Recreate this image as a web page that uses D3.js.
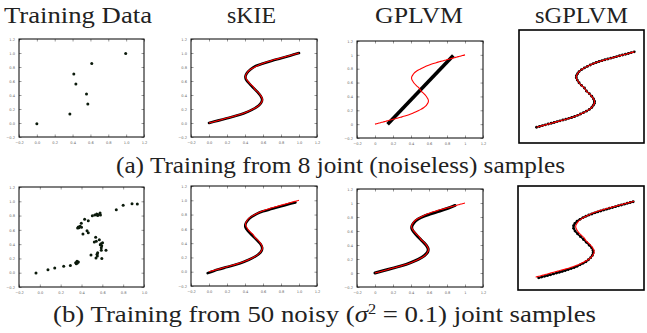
<!DOCTYPE html>
<html>
<head>
<meta charset="utf-8">
<script src="https://cdn.jsdelivr.net/npm/d3@7"></script>
<style>
  body { margin: 0; background: #fff; }
  svg { display: block; }
  .tick text { font-family: "DejaVu Sans", sans-serif; fill: #666; }
  .tick line { stroke: #333; stroke-width: 0.5; }
  .serif { font-family: "Liberation Serif", serif; font-size: 23px; fill: #222; }
</style>
</head>
<body>
<div id="chart"></div>
<script>
// ---- data ----
const titles = ["Training Data", "sKIE", "GPLVM", "sGPLVM"];

// 8 noiseless training samples
const sparseX = [0.0, 0.37, 0.414, 0.437, 0.556, 0.571, 0.615, 0.995];
const sparseY = [-0.01, 0.13, 0.70, 0.557, 0.414, 0.27, 0.85, 0.994];

// 50 noisy training samples
const noisyX = [-0.037, 0.078, 0.143, 0.229, 0.293, 0.344, 0.357, 0.37, 0.35, 0.36,
  0.491, 0.539, 0.552, 0.555, 0.549, 0.59, 0.635, 0.594, 0.587, 0.58,
  0.602, 0.571, 0.542, 0.523, 0.536, 0.465, 0.453, 0.414, 0.37, 0.363,
  0.386, 0.40, 0.398, 0.43, 0.465, 0.504, 0.527, 0.546, 0.56, 0.578,
  0.582, 0.555, 0.734, 0.80, 0.885, 0.936, 0.59, 0.55, 0.375, 0.595];
const noisyY = [-0.004, 0.042, 0.066, 0.089, 0.10, 0.14, 0.16, 0.15, 0.126, 0.135,
  0.248, 0.206, 0.234, 0.28, 0.26, 0.314, 0.314, 0.378, 0.406, 0.39,
  0.42, 0.462, 0.44, 0.43, 0.496, 0.56, 0.588, 0.542, 0.64, 0.625,
  0.65, 0.635, 0.692, 0.748, 0.728, 0.798, 0.807, 0.822, 0.812, 0.836,
  0.808, 0.80, 0.882, 0.944, 0.966, 0.962, 0.35, 0.815, 0.63, 0.20];

// ground-truth S curve (red)
const trueCurve = [[0, 0], [0.03, 0.01], [0.06, 0.021], [0.09, 0.031], [0.12, 0.042],
  [0.15, 0.052], [0.18, 0.063], [0.21, 0.074], [0.24, 0.084], [0.27, 0.095],
  [0.30, 0.105], [0.33, 0.117], [0.36, 0.129], [0.39, 0.142], [0.42, 0.157],
  [0.45, 0.174], [0.48, 0.193], [0.51, 0.213], [0.54, 0.236], [0.565, 0.262],
  [0.58, 0.29], [0.592, 0.318], [0.593, 0.345], [0.583, 0.375], [0.565, 0.41],
  [0.54, 0.445], [0.51, 0.48], [0.49, 0.52], [0.46, 0.555], [0.435, 0.59],
  [0.417, 0.625], [0.407, 0.655], [0.408, 0.682], [0.42, 0.71], [0.435, 0.738],
  [0.46, 0.764], [0.49, 0.787], [0.52, 0.807], [0.55, 0.826], [0.58, 0.843],
  [0.61, 0.858], [0.64, 0.871], [0.67, 0.883], [0.70, 0.895], [0.73, 0.906],
  [0.76, 0.916], [0.79, 0.927], [0.82, 0.937], [0.85, 0.948], [0.88, 0.958],
  [0.91, 0.969], [0.94, 0.979], [0.97, 0.99], [1.0, 1.0]];

// fitted curves (black)
const skieTopFit = [[0, 0], [0.1, 0.034], [0.2, 0.068], [0.3, 0.102], [0.39, 0.14],
  [0.48, 0.19], [0.55, 0.245], [0.58, 0.29], [0.59, 0.335], [0.575, 0.385],
  [0.54, 0.44], [0.49, 0.505], [0.44, 0.575], [0.41, 0.625], [0.405, 0.665],
  [0.42, 0.71], [0.46, 0.765], [0.52, 0.815], [0.6, 0.85], [0.7, 0.89],
  [0.8, 0.925], [0.9, 0.962], [1.0, 1.0]];
const gplvmTopFit = [[0.14, 0.0], [0.87, 0.99]];
const sgplvmTopFit = trueCurve;

const skieBottomFit = [[-0.015, -0.02], [0.1, 0.03], [0.2, 0.065], [0.3, 0.1], [0.39, 0.14],
  [0.48, 0.19], [0.55, 0.245], [0.585, 0.295], [0.59, 0.34], [0.57, 0.39],
  [0.53, 0.445], [0.48, 0.51], [0.43, 0.575], [0.405, 0.625], [0.405, 0.665],
  [0.425, 0.71], [0.47, 0.765], [0.53, 0.81], [0.6, 0.845], [0.7, 0.88],
  [0.8, 0.915], [0.9, 0.95], [0.96, 0.97]];
const gplvmBottomFit = [[0, 0], [0.1, 0.036], [0.2, 0.07], [0.3, 0.105], [0.39, 0.145],
  [0.48, 0.195], [0.55, 0.25], [0.585, 0.3], [0.59, 0.345], [0.57, 0.395],
  [0.53, 0.45], [0.48, 0.515], [0.435, 0.58], [0.41, 0.63], [0.41, 0.67],
  [0.43, 0.715], [0.48, 0.77], [0.54, 0.81], [0.62, 0.845], [0.72, 0.885],
  [0.81, 0.925], [0.89, 0.965]];
const sgplvmBottomFit = [[0.03, -0.01], [0.06, 0.0], [0.09, 0.01], [0.12, 0.021], [0.15, 0.031],
  [0.18, 0.042], [0.21, 0.053], [0.24, 0.064], [0.27, 0.075], [0.30, 0.087],
  [0.33, 0.1], [0.36, 0.113], [0.39, 0.127], [0.42, 0.143], [0.45, 0.161],
  [0.48, 0.181], [0.51, 0.203], [0.535, 0.228], [0.558, 0.256], [0.575, 0.286],
  [0.583, 0.318], [0.582, 0.35], [0.568, 0.385], [0.545, 0.42], [0.515, 0.458],
  [0.485, 0.495], [0.455, 0.533], [0.425, 0.57], [0.4, 0.607], [0.385, 0.642],
  [0.385, 0.676], [0.398, 0.707], [0.42, 0.735], [0.45, 0.761], [0.48, 0.783],
  [0.51, 0.802], [0.54, 0.818], [0.57, 0.832], [0.60, 0.846], [0.63, 0.859],
  [0.66, 0.871], [0.69, 0.883], [0.72, 0.895], [0.75, 0.906], [0.78, 0.917],
  [0.81, 0.928], [0.84, 0.939], [0.87, 0.95], [0.90, 0.961], [0.93, 0.972],
  [0.96, 0.983], [0.99, 0.993]];

const axisTicks = [-0.2, 0, 0.2, 0.4, 0.6, 0.8, 1.0, 1.2];
const axisTicksShort = [-0.2, 0, 0.2, 0.4, 0.6, 0.8, 1.0];
const captionA = "(a) Training from 8 joint (noiseless) samples";

// ---- layout ----
const width = 647, height = 333;
const svg = d3.select("#chart").append("svg")
  .attr("width", width).attr("height", height);

const zip = (xs, ys) => xs.map((x, i) => [x, ys[i]]);

const panels = [
  { box: [19, 39, 144, 137], xd: [-0.2, 1.2], yd: [-0.2, 1.2], xt: axisTicks, fmt: d3.format(".1f"),
    points: zip(sparseX, sparseY) },
  { box: [191, 39, 317, 137], xd: [-0.2, 1.2], yd: [-0.2, 1.2], xt: axisTicks, fmt: d3.format(".1f"),
    fit: skieTopFit, fitW: 2.6, truth: true },
  { box: [357, 41, 483, 138], xd: [-0.2, 1.2], yd: [-0.2, 1.2], xt: axisTicks, fmt: d3.format("~g"),
    fit: gplvmTopFit, fitW: 3.6, truth: true, linear: true },
  { box: [519, 30, 644, 143], xd: [-0.18, 1.10], yd: [-0.21, 1.29], noAxes: true,
    fit: sgplvmTopFit, fitW: 1.4, dots: true, truth: true },
  { box: [19, 187, 144, 287], xd: [-0.2, 1.0], yd: [-0.2, 1.2], xt: axisTicksShort, fmt: d3.format(".1f"),
    points: zip(noisyX, noisyY) },
  { box: [191, 186, 317, 286], xd: [-0.2, 1.2], yd: [-0.2, 1.2], xt: axisTicks, fmt: d3.format(".1f"),
    fit: skieBottomFit, fitW: 2.6, truth: true },
  { box: [357, 189, 483, 287], xd: [-0.2, 1.2], yd: [-0.2, 1.2], xt: axisTicks, fmt: d3.format("~g"),
    fit: gplvmBottomFit, fitW: 3.0, truth: true },
  { box: [518, 186, 644, 290], xd: [-0.18, 1.10], yd: [-0.17, 1.20], noAxes: true,
    fit: sgplvmBottomFit, fitW: 1.6, dots: true, truth: true }
];

panels.forEach(p => {
  const [x0, y0, x1, y1] = p.box;
  const x = d3.scaleLinear().domain(p.xd).range([x0, x1]);
  const y = d3.scaleLinear().domain(p.yd).range([y1, y0]);
  const g = svg.append("g");

  if (!p.noAxes) {
    const axes = [
      [d3.axisBottom(x).tickValues(p.xt).tickFormat(p.fmt).tickPadding(4), `translate(0,${y1})`],
      [d3.axisTop(x).tickValues(p.xt).tickFormat(""), `translate(0,${y0})`],
      [d3.axisLeft(y).tickValues(axisTicks).tickFormat(p.fmt).tickPadding(4), `translate(${x0},0)`],
      [d3.axisRight(y).tickValues(axisTicks).tickFormat(""), `translate(${x1},0)`]
    ];
    axes.forEach(([ax, tr]) => {
      const a = g.append("g").attr("transform", tr).call(ax.tickSize(-2.5));
      a.select(".domain").remove();
      a.selectAll("text").style("font-size", "3.6px");
    });
  }

  const clipId = "clip" + x0 + "_" + y0;
  svg.append("clipPath").attr("id", clipId)
    .append("rect").attr("x", x0).attr("y", y0).attr("width", x1 - x0).attr("height", y1 - y0);
  const inner = g.append("g").attr("clip-path", `url(#${clipId})`);

  const line = d3.line().x(d => x(d[0])).y(d => y(d[1]))
    .curve(p.linear ? d3.curveLinear : d3.curveCatmullRom);

  if (p.points) {
    inner.selectAll("circle").data(p.points).enter().append("circle")
      .attr("cx", d => x(d[0])).attr("cy", d => y(d[1])).attr("r", 1.5)
      .attr("fill", "#0b1a0b");
  }
  if (p.fit) {
    inner.append("path").datum(p.fit).attr("d", line)
      .attr("fill", "none").attr("stroke", "#000").attr("stroke-width", p.fitW)
      .attr("stroke-linecap", p.linear ? "butt" : "round").attr("stroke-linejoin", "round");
    if (p.dots) {
      inner.selectAll("circle").data(p.fit).enter().append("circle")
        .attr("cx", d => x(d[0])).attr("cy", d => y(d[1])).attr("r", 1.45).attr("fill", "#000");
    }
  }
  if (p.truth) {
    inner.append("path").datum(trueCurve).attr("d", line.curve(d3.curveCatmullRom))
      .attr("fill", "none").attr("stroke", "#ff0000").attr("stroke-width", 1.1);
  }

  g.append("rect").attr("x", x0).attr("y", y0).attr("width", x1 - x0).attr("height", y1 - y0)
    .attr("fill", "none").attr("stroke", "#000").attr("stroke-width", p.noAxes ? 1.6 : 1);
});

// ---- titles and captions ----
const titleX = [78, 251.5, 419, 581.5];
const titleW = [148, 49, 88, 93];
svg.selectAll(".title").data(titles).enter().append("text")
  .attr("class", "title serif")
  .attr("x", (d, i) => titleX[i]).attr("y", 23)
  .attr("text-anchor", "middle")
  .attr("textLength", (d, i) => titleW[i]).attr("lengthAdjust", "spacingAndGlyphs")
  .text(d => d);

svg.append("text").attr("class", "serif").attr("x", 340.5).attr("y", 173).attr("text-anchor", "middle")
  .attr("textLength", 449).attr("lengthAdjust", "spacingAndGlyphs")
  .text(captionA);

const capB = svg.append("text").attr("class", "serif").attr("x", 324.5).attr("y", 322).attr("text-anchor", "middle")
  .attr("textLength", 543).attr("lengthAdjust", "spacingAndGlyphs");
capB.append("tspan").text("(b) Training from 50 noisy (");
capB.append("tspan").style("font-style", "italic").text("σ");
capB.append("tspan").attr("dy", -8).style("font-size", "14px").text("2");
capB.append("tspan").attr("dy", 8).text(" = 0.1) joint samples");
</script>
</body>
</html>
